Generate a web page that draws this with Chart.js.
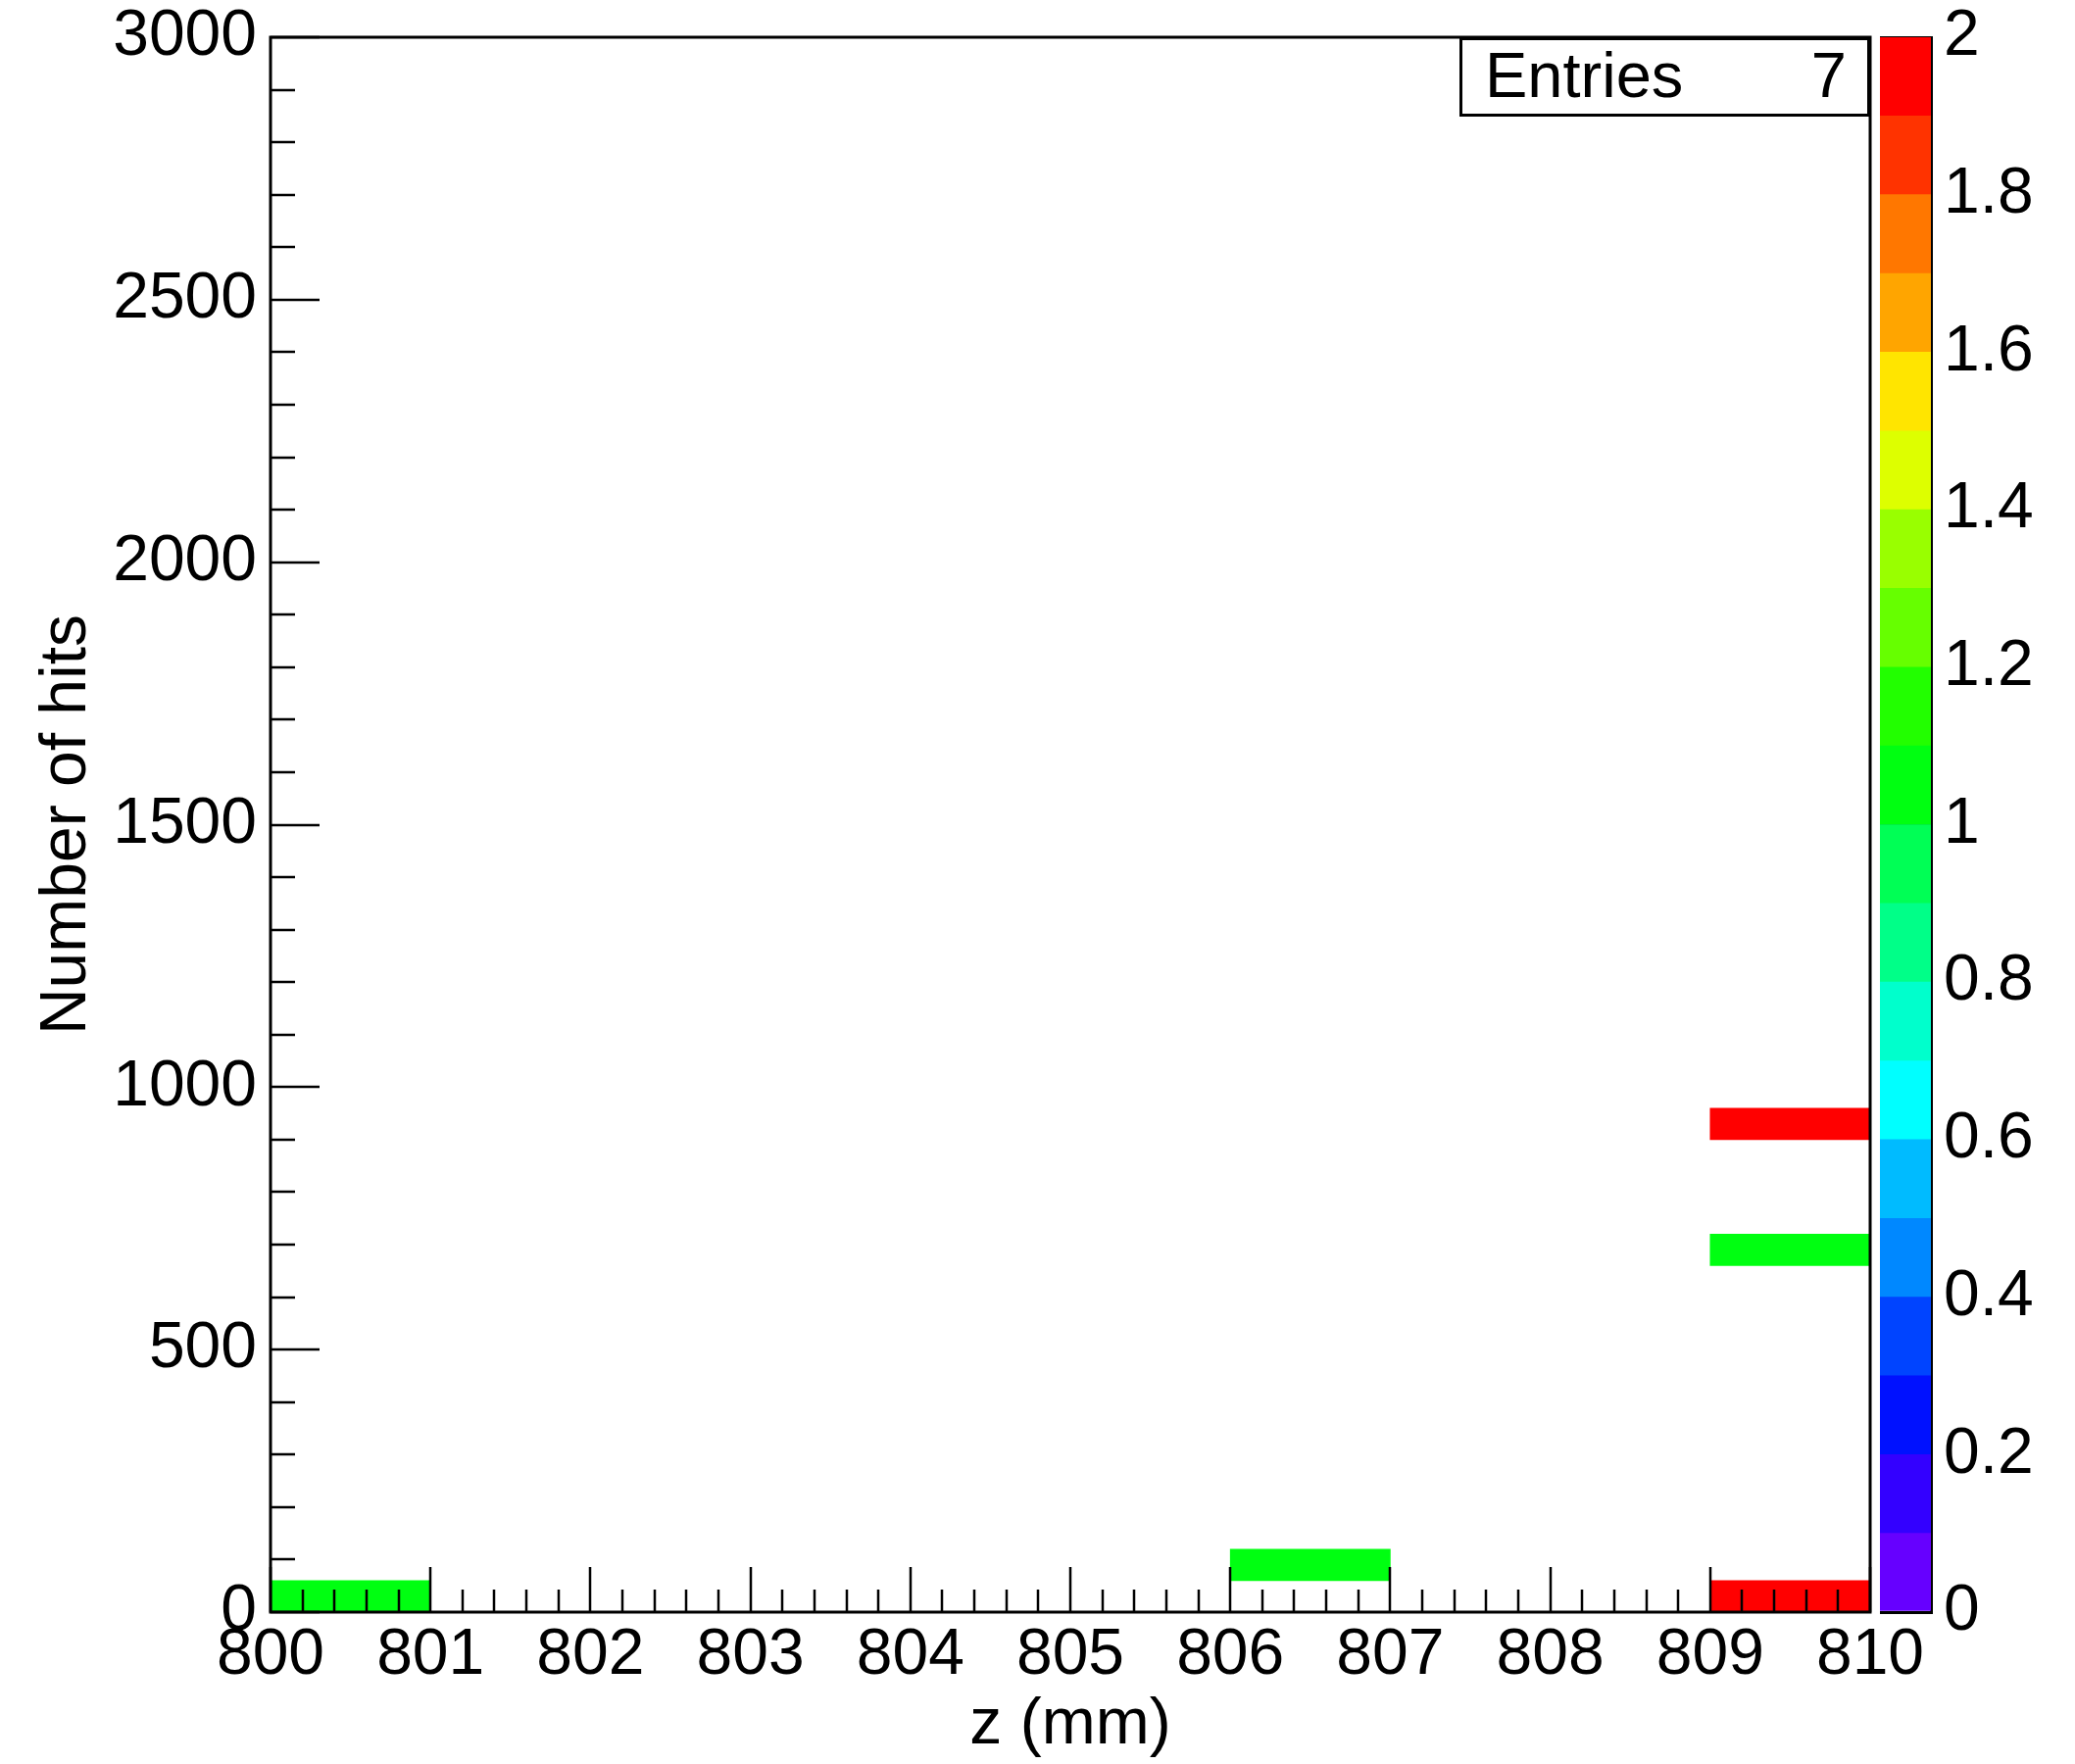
<!DOCTYPE html>
<html>
<head>
<meta charset="utf-8">
<title>z (mm) vs Number of hits</title>
<script src="https://cdn.jsdelivr.net/npm/chart.js@4.4.1/dist/chart.umd.min.js"></script>
<style>
  html, body { margin: 0; padding: 0; background: #fff; }
  body { position: relative; width: 2117px; height: 1800px; overflow: hidden; font-family: 'Liberation Sans', Arial, sans-serif; }
  #mainChart { position: absolute; left: 0; top: 0; }
  #paletteChart { position: absolute; left: 1900px; top: 0; }
  #stats { position: absolute; left: 1489px; top: 38px; width: 419px; height: 81px; box-sizing: border-box; border: 3px solid #000; background: #fff; }
  .statText { position: absolute; top: 44px; font-size: 65px; line-height: 65px; color: #000; white-space: nowrap; }
</style>
</head>
<body>
<canvas id="mainChart" width="2117" height="1800"></canvas>
<canvas id="paletteChart" width="217" height="1800"></canvas>
<div id="stats"></div>
<span class="statText" style="left:1515px">Entries</span>
<span class="statText" style="right:233px">7</span>
<script>
// x bins: 1 mm wide, 800..810
const zBins = ['800.5', '801.5', '802.5', '803.5', '804.5', '805.5', '806.5', '807.5', '808.5', '809.5'];
// filled cells of the 2D histogram (y bins are 60 hits wide)
const cellBin = [0, 6, 9, 9, 9];          // index into zBins
const cellHitsLow = [0, 60, 0, 660, 900];
const cellHitsHigh = [60, 120, 60, 720, 960];
const cellCount = [1, 1, 2, 1, 2];

// colour palette, 20 contours from 0 to 2 (bottom to top)
const paletteColors = ['#6600ff', '#3300ff', '#0011ff', '#0044ff', '#0088ff', '#00bbff', '#00ffff', '#00ffcc', '#00ff88', '#00ff55',
                       '#00ff11', '#22ff00', '#66ff00', '#99ff00', '#ddff00', '#ffe500', '#ffa500', '#ff7700', '#ff3300', '#ff0000'];
const paletteMax = 2;

Chart.defaults.font.family = "'Liberation Sans', Arial, sans-serif";
Chart.defaults.color = '#000';

function colorFor(count) {
    let i = Math.floor(count / paletteMax * paletteColors.length + 1e-9);
    if (i > paletteColors.length - 1) i = paletteColors.length - 1;
    return paletteColors[i];
}

const cellDatasets = cellCount.map((count, k) => {
    const data = zBins.map(() => null);
    data[cellBin[k]] = [cellHitsLow[k], cellHitsHigh[k]];
    return {
        data: data,
        backgroundColor: colorFor(count),
        borderWidth: 0,
        grouped: false,
        barPercentage: 1,
        categoryPercentage: 1,
        xAxisID: 'xb',
        yAxisID: 'y'
    };
});

// ROOT style ticks drawn inward, plus the frame
const rootFrame = {
    id: 'rootFrame',
    afterDatasetsDraw(chart) {
        const {ctx, chartArea: a, scales} = chart;
        ctx.save();
        ctx.strokeStyle = '#000';
        ctx.lineWidth = 2.5;
        ctx.beginPath();
        scales.x.ticks.forEach(t => {
            const px = Math.round(scales.x.getPixelForValue(t.value));
            const major = Math.abs(t.value - Math.round(t.value)) < 1e-6;
            ctx.moveTo(px, a.bottom);
            ctx.lineTo(px, a.bottom - (major ? 46 : 23));
        });
        scales.y.ticks.forEach(t => {
            const py = Math.round(scales.y.getPixelForValue(t.value));
            const major = Math.round(t.value) % 500 === 0;
            ctx.moveTo(a.left, py);
            ctx.lineTo(a.left + (major ? 50 : 25), py);
        });
        ctx.stroke();
        ctx.lineWidth = 3;
        ctx.strokeRect(a.left, a.top, a.right - a.left, a.bottom - a.top);
        ctx.restore();
    }
};

new Chart(document.getElementById('mainChart').getContext('2d'), {
    type: 'bar',
    data: { labels: zBins, datasets: cellDatasets },
    options: {
        responsive: false,
        animation: false,
        devicePixelRatio: 1,
        layout: { padding: { left: 0, top: 38, right: 209, bottom: 0 } },
        plugins: { legend: { display: false }, tooltip: { enabled: false } },
        scales: {
            xb: { type: 'category', display: false, offset: true },
            x: {
                type: 'linear',
                position: 'bottom',
                offset: false,
                min: 800,
                max: 810,
                grid: { display: false, drawTicks: false },
                border: { display: false },
                ticks: {
                    stepSize: 0.2,
                    autoSkip: false,
                    maxRotation: 0,
                    padding: 12,
                    font: { size: 66, lineHeight: 1 },
                    callback: v => Math.abs(v - Math.round(v)) < 1e-6 ? String(Math.round(v)) : ''
                },
                title: { display: true, text: 'z (mm)', font: { size: 66, lineHeight: 1.2 }, padding: { top: 0, bottom: 0 } },
                afterFit: s => { s.height = 155; }
            },
            y: {
                type: 'linear',
                min: 0,
                max: 3000,
                grid: { display: false, drawTicks: false },
                border: { display: false },
                ticks: {
                    stepSize: 100,
                    autoSkip: false,
                    padding: 14,
                    font: { size: 66, lineHeight: 0.6 },
                    callback: v => Math.round(v) % 500 === 0 ? String(Math.round(v)) : ''
                },
                title: { display: true, text: 'Number of hits', font: { size: 66, lineHeight: 1.2 }, padding: { top: 29, bottom: 0 } },
                afterFit: s => { s.width = 276; }
            }
        }
    },
    plugins: [rootFrame]
});

// colour scale (palette axis)
const paletteDatasets = paletteColors.map(c => ({
    data: [paletteMax / paletteColors.length],
    backgroundColor: c,
    borderWidth: 0,
    barPercentage: 1,
    categoryPercentage: 1
}));

new Chart(document.getElementById('paletteChart').getContext('2d'), {
    type: 'bar',
    data: { labels: ['z'], datasets: paletteDatasets },
    options: {
        responsive: false,
        animation: false,
        devicePixelRatio: 1,
        layout: { padding: { left: 18, top: 38, right: 0, bottom: 155 } },
        plugins: { legend: { display: false }, tooltip: { enabled: false } },
        scales: {
            x: { display: false, stacked: true },
            y: {
                position: 'right',
                stacked: true,
                min: 0,
                max: paletteMax,
                z: 1,
                grid: { color: '#000', lineWidth: 3, drawTicks: false },
                border: { display: true, color: '#000', width: 3 },
                ticks: {
                    stepSize: 0.2,
                    autoSkip: false,
                    padding: 13,
                    font: { size: 66, lineHeight: 0.6 },
                    callback: v => String(parseFloat(v.toFixed(1)))
                },
                afterFit: s => { s.width = 147; }
            }
        }
    }
});
</script>
</body>
</html>
